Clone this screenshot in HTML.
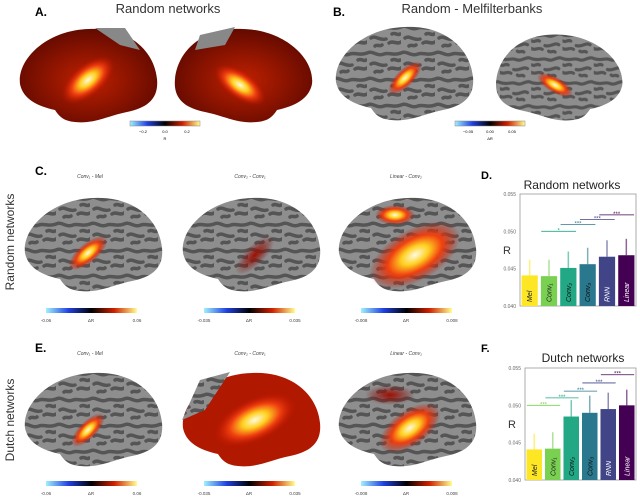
<!DOCTYPE html>
<html><head><meta charset="utf-8"><style>
body{margin:0;background:#fff;}
svg{display:block;font-family:"Liberation Sans",sans-serif;}
</style></head><body>
<svg width="640" height="497" viewBox="0 0 640 497">
<defs>
<path id="brain" d="M3,60 C0,35 30,6 72,5 C110,3 137,25 140,55 C142,75 130,84 110,88 C90,92 78,100 58,98 C46,97 42,92 38,86 C20,82 6,75 3,60Z"/>
<radialGradient id="heat" cx="0.5" cy="0.5" r="0.5"><stop offset="0" stop-color="#fffbe0"/><stop offset="0.3" stop-color="#ffd020"/><stop offset="0.6" stop-color="#f04010"/><stop offset="1" stop-color="#c01000" stop-opacity="0"/></radialGradient>
<radialGradient id="darkred" cx="0.5" cy="0.5" r="0.5"><stop offset="0" stop-color="#a01000"/><stop offset="1" stop-color="#800000" stop-opacity="0"/></radialGradient>
<radialGradient id="redbase" cx="0.5" cy="0.55" r="0.6"><stop offset="0" stop-color="#c02000"/><stop offset="1" stop-color="#5a0800"/></radialGradient>
<linearGradient id="cbar"><stop offset="0" stop-color="#9ff0ff"/><stop offset="0.25" stop-color="#2040e0"/><stop offset="0.5" stop-color="#000"/><stop offset="0.75" stop-color="#d02000"/><stop offset="1" stop-color="#ffff90"/></linearGradient>
<pattern id="sulci" width="34" height="26" patternUnits="userSpaceOnUse"><rect width="34" height="26" fill="#8e8e8e"/><path d="M0,5 C6,2 10,9 17,6 C22,4 26,8 34,5 M4,16 C9,13 12,19 19,17 M22,21 C26,18 30,23 34,20 M8,24 C10,22 13,25 15,23 M25,12 C28,10 31,14 33,12" stroke="#555" stroke-width="3.5" fill="none" stroke-linecap="round"/></pattern>
</defs>

<!-- Panel A -->
<text x="35" y="16" font-size="12" font-weight="bold">A.</text>
<text x="168" y="13" font-size="13" fill="#333" text-anchor="middle">Random networks</text>
<g>
<use href="#brain" transform="translate(17,24)" fill="url(#redbase)"/>
<ellipse cx="88" cy="80" rx="32" ry="16" fill="url(#heat)" transform="rotate(-40 88 80)"/>
<path d="M95,28 L125,28 L140,50 L120,45 Z" fill="#888"/>
</g>
<g>
<use href="#brain" transform="translate(315,24) scale(-1,1)" fill="url(#redbase)"/>
<ellipse cx="240" cy="85" rx="30" ry="14" fill="url(#heat)" transform="rotate(35 240 85)"/>
<path d="M200,35 L235,27 L225,45 L195,50 Z" fill="#888"/>
</g>
<g>
<rect x="130" y="121" width="70" height="5" fill="url(#cbar)" stroke="#888" stroke-width="0.5"/>
<text x="143" y="133" font-size="4" text-anchor="middle">−0.2</text><text x="165" y="133" font-size="4" text-anchor="middle">0.0</text><text x="187" y="133" font-size="4" text-anchor="middle">0.2</text><text x="165" y="140" font-size="4" text-anchor="middle">R</text>
</g>

<!-- Panel B -->
<text x="333" y="16" font-size="12" font-weight="bold">B.</text>
<text x="472" y="13" font-size="13" fill="#333" text-anchor="middle">Random - Melfilterbanks</text>
<g>
<use href="#brain" transform="translate(333,22)" fill="url(#sulci)"/>
<ellipse cx="405" cy="78" rx="22" ry="9" fill="url(#heat)" transform="rotate(-45 405 78)"/>
</g>
<g>
<use href="#brain" transform="translate(625,30) scale(-0.92,0.92)" fill="url(#sulci)"/>
<ellipse cx="555" cy="85" rx="20" ry="8" fill="url(#heat)" transform="rotate(30 555 85)"/>
</g>
<g>
<rect x="455" y="121" width="70" height="5" fill="url(#cbar)" stroke="#888" stroke-width="0.5"/>
<text x="468" y="133" font-size="4" text-anchor="middle">−0.05</text><text x="490" y="133" font-size="4" text-anchor="middle">0.00</text><text x="512" y="133" font-size="4" text-anchor="middle">0.05</text><text x="490" y="140" font-size="4" text-anchor="middle">ΔR</text>
</g>

<!-- Row labels -->
<text transform="translate(14,242) rotate(-90)" font-size="12" fill="#333" text-anchor="middle">Random networks</text>
<text transform="translate(14,420) rotate(-90)" font-size="12" fill="#333" text-anchor="middle">Dutch networks</text>

<!-- Panel C -->
<text x="35" y="175" font-size="12" font-weight="bold">C.</text>
<g font-size="5" font-style="italic" fill="#444" text-anchor="middle">
<text x="90" y="178">Conv₁ - Mel</text>
<text x="250" y="178">Conv₂ - Conv₁</text>
<text x="406" y="178">Linear - Conv₂</text>
</g>
<g><use href="#brain" transform="translate(22,193)" fill="url(#sulci)"/><ellipse cx="88" cy="253" rx="24" ry="10" fill="url(#heat)" transform="rotate(-40 88 253)"/></g>
<g><use href="#brain" transform="translate(180,193)" fill="url(#sulci)"/><ellipse cx="255" cy="255" rx="26" ry="10" fill="url(#darkred)" transform="rotate(-45 255 255)"/></g>
<g><use href="#brain" transform="translate(336,193)" fill="url(#sulci)"/><ellipse cx="415" cy="255" rx="50" ry="26" fill="url(#heat)" transform="rotate(-30 415 255)"/><ellipse cx="395" cy="215" rx="20" ry="10" fill="url(#heat)"/></g>
<g font-size="4.5" fill="#444" text-anchor="middle">
<rect x="46" y="308" width="91" height="5" fill="url(#cbar)"/><text x="46" y="322">-0.06</text><text x="91" y="322">ΔR</text><text x="137" y="322">0.06</text>
<rect x="204" y="308" width="91" height="5" fill="url(#cbar)"/><text x="204" y="322">-0.035</text><text x="249" y="322">ΔR</text><text x="295" y="322">0.035</text>
<rect x="361" y="308" width="91" height="5" fill="url(#cbar)"/><text x="361" y="322">-0.008</text><text x="406" y="322">ΔR</text><text x="452" y="322">0.008</text>
</g>

<!-- Panel E -->
<text x="35" y="352" font-size="12" font-weight="bold">E.</text>
<g font-size="5" font-style="italic" fill="#444" text-anchor="middle">
<text x="90" y="355">Conv₁ - Mel</text>
<text x="250" y="355">Conv₂ - Conv₁</text>
<text x="406" y="355">Linear - Conv₁</text>
</g>
<g><use href="#brain" transform="translate(22,368)" fill="url(#sulci)"/><ellipse cx="88" cy="430" rx="22" ry="9" fill="url(#heat)" transform="rotate(-45 88 430)"/></g>
<g><use href="#brain" transform="translate(180,368)" fill="#b01800"/><ellipse cx="255" cy="420" rx="45" ry="22" fill="url(#heat)" transform="rotate(-25 255 420)"/><path d="M182,420 L200,380 L230,372 L205,410 Z" fill="url(#sulci)"/></g>
<g><use href="#brain" transform="translate(336,368)" fill="url(#sulci)"/><ellipse cx="410" cy="428" rx="35" ry="18" fill="url(#heat)" transform="rotate(-35 410 428)"/><ellipse cx="390" cy="395" rx="25" ry="10" fill="url(#darkred)"/></g>
<g font-size="4.5" fill="#444" text-anchor="middle">
<rect x="46" y="481" width="91" height="5" fill="url(#cbar)"/><text x="46" y="495">-0.06</text><text x="91" y="495">ΔR</text><text x="137" y="495">0.06</text>
<rect x="204" y="481" width="91" height="5" fill="url(#cbar)"/><text x="204" y="495">-0.035</text><text x="249" y="495">ΔR</text><text x="295" y="495">0.035</text>
<rect x="361" y="481" width="91" height="5" fill="url(#cbar)"/><text x="361" y="495">-0.008</text><text x="406" y="495">ΔR</text><text x="452" y="495">0.008</text>
</g>

<!-- Charts -->
<text x="481" y="179" font-size="11" font-weight="bold">D.</text>
<text x="572" y="189" font-size="12" fill="#222" text-anchor="middle">Random networks</text>
<text x="481" y="352" font-size="11" font-weight="bold">F.</text>
<text x="583" y="362" font-size="12" fill="#222" text-anchor="middle">Dutch networks</text>
<g id="chartD"></g>
<g id="chartF"></g>
</svg>
<script>
const categories = ["Mel","Conv₁","Conv₂","Conv₃","RNN","Linear"];
const colors = ["#fde725","#7ad151","#22a884","#2a788e","#414487","#440154"];
const dValues = [0.0441,0.0440,0.0451,0.0456,0.0466,0.0468];
const dErrTop = [0.0462,0.0462,0.0473,0.0478,0.0488,0.0490];
const dSig = ["*","***","***","***"];
const fValues = [0.0441,0.0442,0.0485,0.0490,0.0495,0.0500];
const fErrTop = [0.0462,0.0464,0.0507,0.0513,0.0517,0.0521];
const fSig = ["***","***","***","***","***"];
const yTicks = [0.040,0.045,0.050,0.055];
const NS="http://www.w3.org/2000/svg";
function mk(p,t,a){const e=document.createElementNS(NS,t);for(const k in a)e.setAttribute(k,a[k]);p.appendChild(e);return e;}
function draw(g,x0,x1,yTop,yBot,vals,errs,sig,sigStart,sigY){
  const y=v=>yBot-(v-0.040)/(0.015)*(yBot-yTop);
  const bw=(x1-x0)/categories.length;
  const xc=i=>x0+bw*(i+0.5);
  const ax=mk(g,'rect',{x:x0,y:yTop,width:x1-x0,height:yBot-yTop,fill:'none',stroke:'#999','stroke-width':0.8});
  
  
  yTicks.forEach(t=>{const tx=mk(g,'text',{x:x0-4,y:y(t)+2,'font-size':5,fill:'#666','text-anchor':'end'});tx.textContent=t.toFixed(3);
    
    });
  const yl=mk(g,'text',{x:x0-17,y:(yTop+yBot)/2+4,'font-size':11,fill:'#333'});yl.textContent='R';
  
  
  vals.forEach((v,i)=>{
    const r=mk(g,'rect',{x:xc(i)-bw*0.42,y:y(v),width:bw*0.84,height:yBot-y(v),fill:colors[i]});
    
    
    const e=mk(g,'line',{x1:xc(i),x2:xc(i),y1:y(v),y2:y(errs[i]),stroke:colors[i],'stroke-width':1.5,opacity:0.6});
    
    
    const lb=mk(g,'text',{transform:`translate(${xc(i)+2.5},${yBot-4}) rotate(-90)`,'font-size':7,'font-style':'italic',fill:i<2?'#222':(i<4?'#111':'#fff')});
    lb.textContent=categories[i];
    
    
  });
  sig.forEach((s,k)=>{const i=sigStart+k;const yy=y(sigY[k]);const c=colors[Math.min(i+1,5)];
    const l=mk(g,'line',{x1:xc(i)-bw*0.4,x2:xc(i+1)+bw*0.4,y1:yy,y2:yy,stroke:c,'stroke-width':0.8});
    
    
    const t=mk(g,'text',{x:(xc(i)+xc(i+1))/2,y:yy+1,'font-size':6,fill:c,'text-anchor':'middle'});t.textContent=s;
    
    });
}
const dSigY=[0.0500,0.0509,0.0516,0.0522];
const fSigY=[0.0500,0.0510,0.0519,0.0530,0.0541];
draw(document.getElementById('chartD'),520,636,194,306,dValues,dErrTop,dSig,1,dSigY);
draw(document.getElementById('chartF'),525,636,368,480,fValues,fErrTop,fSig,0,fSigY);
</script>
</body></html>
